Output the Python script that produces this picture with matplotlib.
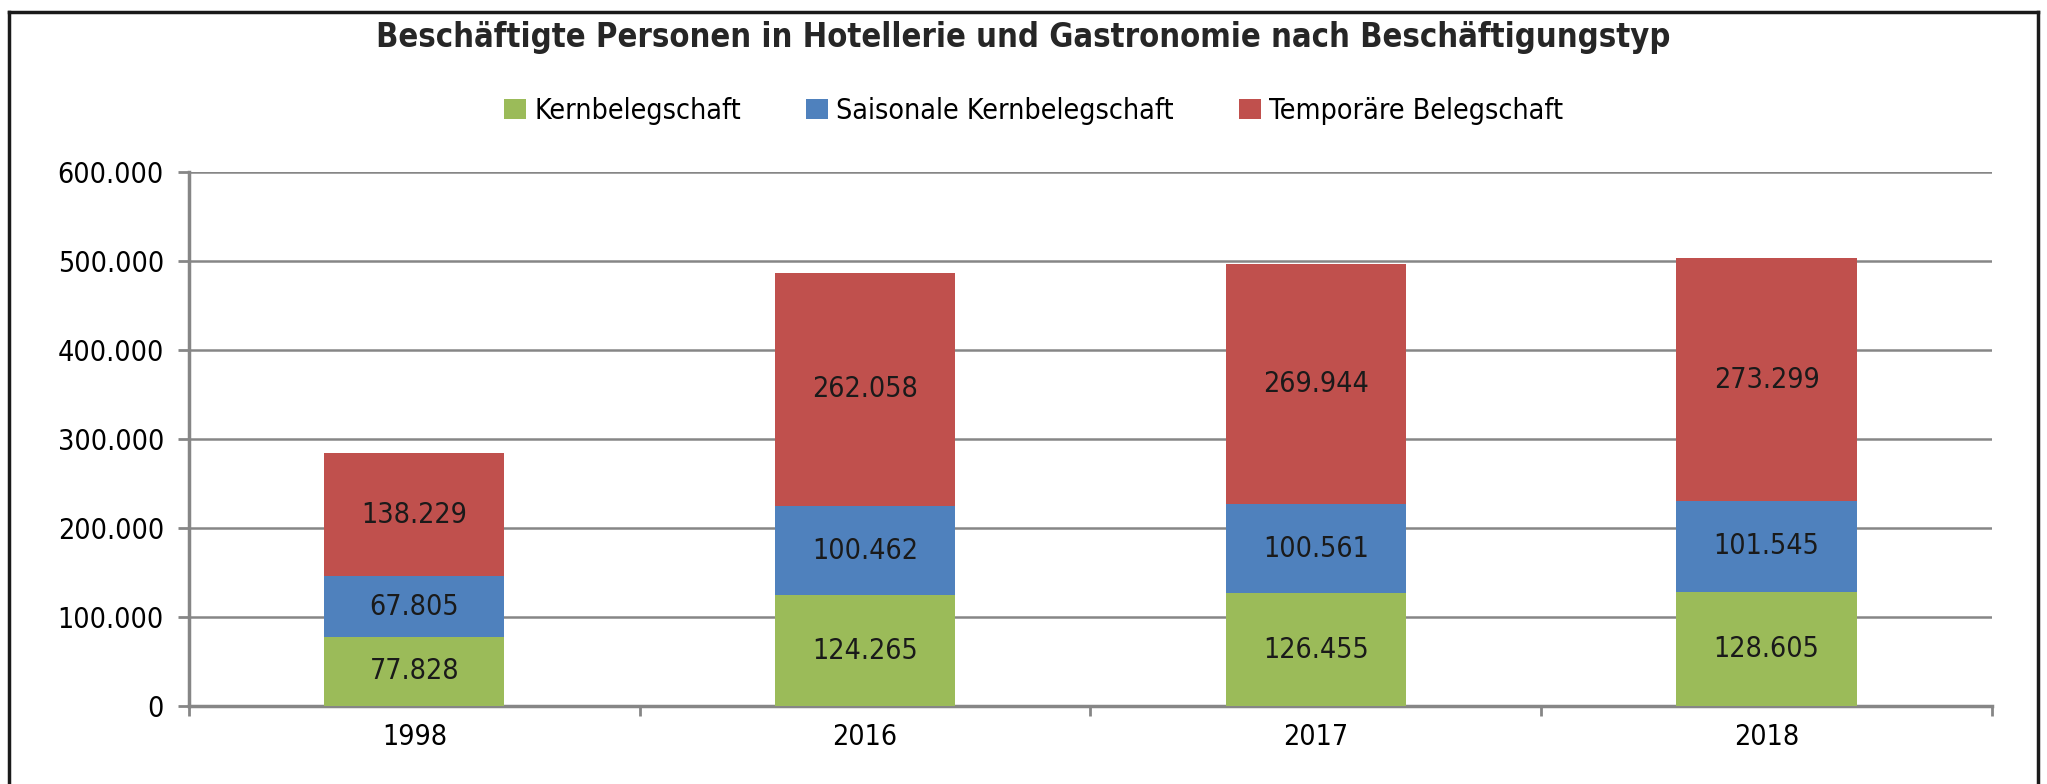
import matplotlib.pyplot as plt
import numpy as np
from matplotlib.lines import Line2D

years = ["1998", "2016", "2017", "2018"]
kern = [77828, 124265, 126455, 128605]
saison = [67805, 100462, 100561, 101545]
temporaer = [138229, 262058, 269944, 273299]
series_names = ["Kernbelegschaft", "Saisonale Kernbelegschaft", "Temporäre Belegschaft"]
colors = ["#9BBB59", "#4F81BD", "#C0504D"]


def fmt_de(v):
    return f"{int(v):,}".replace(",", ".")


plt.rcParams["font.family"] = ["DejaVu Sans"]
plt.rcParams["font.stretch"] = "condensed"

fig = plt.figure(figsize=(20.47, 7.84), dpi=100)
ax = fig.add_axes([0.0923, 0.0995, 0.8808, 0.6811])

x = np.arange(len(years))
bottom = np.zeros(len(years))
for name, vals, col in zip(series_names, [kern, saison, temporaer], colors):
    vals = np.array(vals)
    bars = ax.bar(x, vals, width=0.4, bottom=bottom, color=col, label=name, zorder=3)
    for b, v, bt in zip(bars, vals, bottom):
        ax.text(b.get_x() + b.get_width() / 2, bt + v / 2, fmt_de(v),
                ha="center", va="center", fontsize=20.5, color="#1a1a1a", zorder=4)
    bottom += vals

ax.set_xlim(-0.5, 3.5)
ax.set_ylim(0, 600000)
ax.set_yticks(np.arange(0, 600001, 100000))
ax.set_yticklabels([fmt_de(v) for v in np.arange(0, 600001, 100000)], fontsize=20.5)
ax.set_xticks(x)
ax.set_xticklabels(years, fontsize=20.5)
ax.set_xticks(np.arange(-0.5, 3.6, 1), minor=True)
ax.tick_params(axis="x", which="major", length=0, pad=12)
ax.tick_params(axis="x", which="minor", length=7, width=2, color="#868686", direction="out")
ax.tick_params(axis="y", length=8, width=2, color="#868686", pad=10)

ax.grid(axis="y", color="#868686", linewidth=1.8, zorder=0)
for s in ["top", "right"]:
    ax.spines[s].set_visible(False)
for s in ["left", "bottom"]:
    ax.spines[s].set_color("#868686")
    ax.spines[s].set_linewidth(2.5)

fig.text(0.5, 1 - 37 / 784, "Beschäftigte Personen in Hotellerie und Gastronomie nach Beschäftigungstyp",
         ha="center", va="center", fontsize=23.5, fontweight="bold", color="#262626")

fig.legend(loc="center", bbox_to_anchor=(0.505, 1 - 111 / 784), ncol=3, frameon=False,
           fontsize=20.5, handlelength=0.75, handleheight=0.75, handletextpad=0.3, columnspacing=2.3)

# outer frame (bottom edge is cut off in the reference)
frame_kw = dict(transform=fig.transFigure, color="#1a1a1a", linewidth=2.5)
l, r, t = 9 / 2047, 2038 / 2047, 1 - 12 / 784
fig.add_artist(Line2D([l, l], [0, t], **frame_kw))
fig.add_artist(Line2D([l, r], [t, t], **frame_kw))
fig.add_artist(Line2D([r, r], [t, 0], **frame_kw))

fig.savefig("out.png", dpi=100)
